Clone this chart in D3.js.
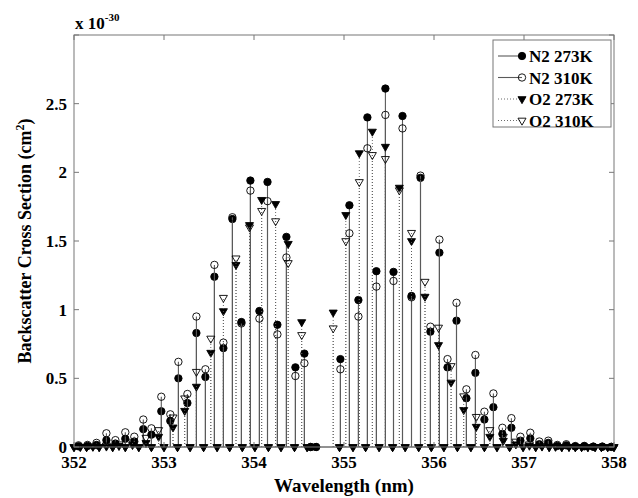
<!DOCTYPE html>
<html>
<head>
<meta charset="utf-8">
<script src="https://cdn.jsdelivr.net/npm/d3@7"></script>
<style>
  body { margin: 0; background: #fff; }
  text { font-family: "Liberation Serif", "Times New Roman", serif; font-weight: bold; fill: #000; }
</style>
</head>
<body>
<svg id="chart" width="638" height="498"></svg>
<script>
// N2 lines (nm) and cross sections (x 1e-30 cm^2)
const n2Wl = [352.05, 352.15, 352.25, 352.36, 352.46, 352.57, 352.67, 352.77, 352.86, 352.97,
  353.07, 353.16, 353.26, 353.36, 353.46, 353.56, 353.66, 353.76, 353.86, 353.96,
  354.06, 354.15, 354.26, 354.36, 354.46, 354.56, 354.63, 354.69, 354.96, 355.06,
  355.16, 355.26, 355.36, 355.46, 355.55, 355.65, 355.75, 355.85, 355.96, 356.06,
  356.15, 356.25, 356.36, 356.46, 356.56, 356.66, 356.76, 356.86, 356.96, 357.07,
  357.17, 357.27, 357.37, 357.47, 357.57, 357.67, 357.77, 357.87, 357.97];
const n2_273 = [0.005, 0.008, 0.015, 0.05, 0.025, 0.06, 0.04, 0.13, 0.09, 0.26,
  0.19, 0.5, 0.32, 0.83, 0.51, 1.24, 0.72, 1.66, 0.91, 1.94,
  0.99, 1.93, 0.89, 1.53, 0.58, 0.68, 0, 0, 0.64, 1.76,
  1.07, 2.40, 1.28, 2.61, 1.275, 2.41, 1.10, 1.96, 0.84, 1.415,
  0.58, 0.92, 0.355, 0.54, 0.2, 0.29, 0.095, 0.14, 0.046, 0.063,
  0.02, 0.03, 0.008, 0.012, 0.004, 0.005, 0.002, 0.002, 0.001];
const n2_310 = [0.012, 0.015, 0.03, 0.1, 0.05, 0.107, 0.075, 0.2, 0.136, 0.366,
  0.238, 0.62, 0.386, 0.95, 0.566, 1.326, 0.76, 1.673, 0.9, 1.867,
  0.935, 1.79, 0.82, 1.38, 0.517, 0.61, 0, 0, 0.566, 1.556,
  0.95, 2.175, 1.168, 2.418, 1.209, 2.32, 1.09, 1.976, 0.876, 1.51,
  0.64, 1.05, 0.42, 0.67, 0.257, 0.39, 0.14, 0.21, 0.075, 0.104,
  0.04, 0.046, 0.015, 0.02, 0.007, 0.008, 0.003, 0.003, 0.001];

// O2 lines
const o2Wl = [352.00, 352.07, 352.14, 352.21, 352.28, 352.36, 352.43, 352.50, 352.57, 352.65,
  352.72, 352.80, 352.86, 352.94, 353.00, 353.10, 353.15, 353.23, 353.29, 353.36,
  353.44, 353.52, 353.59, 353.66, 353.73, 353.80, 353.87, 353.95, 354.01, 354.085,
  354.16, 354.24, 354.30, 354.38, 354.45, 354.53, 354.59, 354.88, 354.95, 355.02,
  355.10, 355.17, 355.24, 355.315, 355.39, 355.46, 355.54, 355.615, 355.68, 355.75,
  355.83, 355.90, 355.97, 356.05, 356.11, 356.19, 356.26, 356.33, 356.41, 356.47,
  356.56, 356.62, 356.70, 356.77, 356.84, 356.91, 356.99, 357.06, 357.13, 357.20,
  357.28, 357.35, 357.42, 357.50, 357.57, 357.64, 357.71, 357.79, 357.86, 357.93,
  358.00];
const o2_273 = [0, 0.001, 0, 0.002, 0, 0.004, 0, 0.008, 0, 0.015,
  0, 0.03, 0, 0.075, 0, 0.143, 0, 0.264, 0, 0.44,
  0, 0.687, 0, 0.99, 0, 1.326, 0, 1.617, 0, 1.80,
  0, 1.77, 0, 1.48, 0, 0.91, 0, 0.98, 0, 1.69,
  0, 2.14, 0, 2.297, 0, 2.187, 0, 1.889, 0, 1.50,
  0, 1.095, 0, 0.743, 0, 0.47, 0, 0.27, 0, 0.148,
  0, 0.075, 0, 0.046, 0, 0.02, 0, 0.01, 0, 0.004,
  0, 0.002, 0, 0.001, 0, 0, 0, 0, 0, 0,
  0];
const o2_310 = [0, 0.003, 0, 0.006, 0, 0.012, 0, 0.02, 0, 0.035,
  0, 0.068, 0, 0.124, 0, 0.216, 0, 0.355, 0, 0.548,
  0, 0.79, 0, 1.087, 0, 1.374, 0, 1.60, 0, 1.72,
  0, 1.645, 0, 1.34, 0, 0.816, 0, 0.865, 0, 1.50,
  0, 1.93, 0, 2.127, 0, 2.098, 0, 1.87, 0, 1.56,
  0, 1.204, 0, 0.87, 0, 0.59, 0, 0.37, 0, 0.22,
  0, 0.124, 0, 0.075, 0, 0.04, 0, 0.02, 0, 0.01,
  0, 0.005, 0, 0.002, 0, 0.001, 0, 0, 0, 0,
  0];

const xTicks = [352, 353, 354, 355, 356, 357, 358];
const yTicks = [0, 0.5, 1, 1.5, 2, 2.5, 3];
const yTickLabels = ['0', '0.5', '1', '1.5', '2', '2.5', ''];

const svg = d3.select('#chart');
const mLeft = 74, mRight = 614, mTop = 35, mBottom = 447;

const x = d3.scaleLinear().domain([352, 358]).range([mLeft, mRight]);
const y = d3.scaleLinear().domain([0, 3]).range([mBottom, mTop]);

const series = [
  { name: 'N2 273K', wl: n2Wl, v: n2_273, marker: 'circle', fill: '#000', dash: null },
  { name: 'N2 310K', wl: n2Wl, v: n2_310, marker: 'circle', fill: 'none', dash: null },
  { name: 'O2 273K', wl: o2Wl, v: o2_273, marker: 'tri', fill: '#000', dash: '1,2' },
  { name: 'O2 310K', wl: o2Wl, v: o2_310, marker: 'tri', fill: 'none', dash: '1,2' }
];

const tri = d3.symbol().type(d3.symbolTriangle).size(28);
const stemColor = '#5a5a5a';

function drawMarker(g, s, cx, cy) {
  if (s.marker === 'circle') {
    g.append('circle').attr('cx', cx).attr('cy', cy).attr('r', 3.7)
      .attr('fill', s.fill).attr('stroke', '#000').attr('stroke-width', 0.9);
  } else {
    g.append('path').attr('d', tri())
      .attr('transform', `translate(${cx},${cy}) rotate(180)`)
      .attr('fill', s.fill).attr('stroke', '#000').attr('stroke-width', 0.9);
  }
}

// baseline
svg.append('line')
  .attr('x1', x(352)).attr('x2', x(358))
  .attr('y1', y(0)).attr('y2', y(0))
  .attr('stroke', stemColor).attr('stroke-width', 1);

// stems and markers
series.forEach(s => {
  const g = svg.append('g');
  s.wl.forEach((w, i) => {
    if (s.v[i] > 0) {
      g.append('line')
        .attr('x1', x(w)).attr('x2', x(w))
        .attr('y1', y(0)).attr('y2', y(s.v[i]))
        .attr('stroke', stemColor)
        .attr('stroke-width', s.dash ? 0.9 : 1.1)
        .attr('stroke-dasharray', s.dash);
    }
  });
  s.wl.forEach((w, i) => drawMarker(g, s, x(w), y(s.v[i])));
});

// frame
svg.append('rect')
  .attr('x', mLeft).attr('y', mTop)
  .attr('width', mRight - mLeft).attr('height', mBottom - mTop)
  .attr('fill', 'none').attr('stroke', '#777').attr('stroke-width', 1);

// ticks on all four sides, pointing inward
const tk = 5;
xTicks.forEach(t => {
  svg.append('line').attr('x1', x(t)).attr('x2', x(t)).attr('y1', mBottom).attr('y2', mBottom - tk).attr('stroke', '#777');
  svg.append('line').attr('x1', x(t)).attr('x2', x(t)).attr('y1', mTop).attr('y2', mTop + tk).attr('stroke', '#777');
  svg.append('text').attr('x', x(t)).attr('y', 468)
    .attr('text-anchor', 'middle').attr('font-size', 17).text(t);
});
yTicks.forEach((t, i) => {
  svg.append('line').attr('x1', mLeft).attr('x2', mLeft + tk).attr('y1', y(t)).attr('y2', y(t)).attr('stroke', '#777');
  svg.append('line').attr('x1', mRight).attr('x2', mRight - tk).attr('y1', y(t)).attr('y2', y(t)).attr('stroke', '#777');
  svg.append('text').attr('x', 67).attr('y', y(t) + 6)
    .attr('text-anchor', 'end').attr('font-size', 17).text(yTickLabels[i]);
});

// exponent label
const ex = svg.append('text').attr('x', 75).attr('y', 29).attr('font-size', 17);
ex.append('tspan').text('x 10');
ex.append('tspan').attr('dy', -8).attr('font-size', 11).text('-30');

// axis titles
svg.append('text').attr('x', x(355)).attr('y', 492)
  .attr('text-anchor', 'middle').attr('font-size', 19).text('Wavelength (nm)');

const yl = svg.append('text')
  .attr('transform', `translate(31,${(mTop + mBottom) / 2}) rotate(-90)`)
  .attr('text-anchor', 'middle').attr('font-size', 18);
yl.append('tspan').text('Backscatter Cross Section (cm');
yl.append('tspan').attr('dy', -7).attr('font-size', 12).text('2');
yl.append('tspan').attr('dy', 7).text(')');

// legend
const lg = svg.append('g');
lg.append('rect').attr('x', 493).attr('y', 40).attr('width', 118).attr('height', 87)
  .attr('fill', '#fff').attr('stroke', '#777');
series.forEach((s, i) => {
  const ly = 56 + i * 21.5;
  lg.append('line').attr('x1', 498).attr('x2', 522).attr('y1', ly).attr('y2', ly)
    .attr('stroke', stemColor).attr('stroke-width', s.dash ? 0.9 : 1.1)
    .attr('stroke-dasharray', s.dash);
  drawMarker(lg, s, 522, ly);
  lg.append('text').attr('x', 529).attr('y', ly + 6).attr('font-size', 17).text(s.name);
});
</script>
</body>
</html>
